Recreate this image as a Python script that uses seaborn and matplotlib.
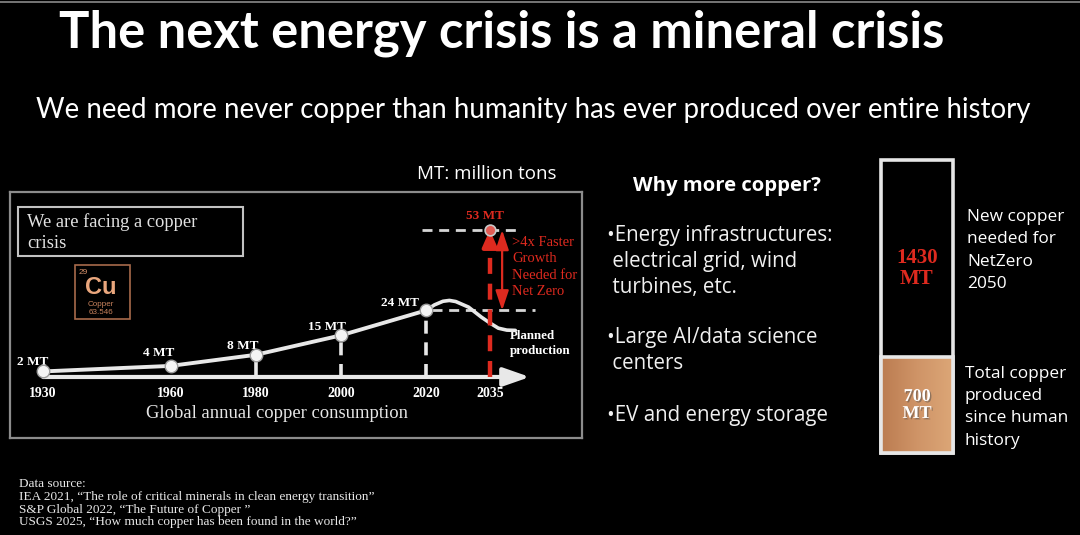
import matplotlib
matplotlib.use("Agg")
import matplotlib.pyplot as plt
import matplotlib.patheffects as pe
from matplotlib.patches import Rectangle
from matplotlib.lines import Line2D
import numpy as np
import pandas as pd
import seaborn as sns

# ---- data ----
hist_years = [1930, 1960, 1980, 2000, 2020]
hist_mt = [2, 4, 8, 15, 24]
hist_labels = ["2 MT", "4 MT", "8 MT", "15 MT", "24 MT"]

planned_years = [2020, 2022, 2024, 2025.5, 2027, 2030, 2033, 2035, 2037, 2039, 2041]
planned_mt = [24, 26, 27.3, 27.6, 27.2, 25.2, 21.6, 19.5, 17.6, 16.9, 16.8]

target_year = 2035
target_mt = 53
target_label = "53 MT"

axis_years = [1930, 1960, 1980, 2000, 2020, 2035]
guide_years = [1980, 2000, 2020]

stack_names = ["Total copper produced", "New copper needed"]
stack_values = [700, 1430]
stack_labels = ["700\nMT", "1430\nMT"]

reasons = ["•Energy infrastructures:\n electrical grid, wind\n turbines, etc.",
           "•Large AI/data science\n centers",
           "•EV and energy storage"]

sources = ["Data source:",
           "IEA 2021, \u201cThe role of critical minerals in clean energy transition\u201d",
           "S&P Global 2022, \u201cThe Future of Copper \u201d",
           "USGS 2025, \u201cHow much copper has been found in the world?\u201d"]

W, H = 1080, 535
SANS = ["Open Sans", "DejaVu Sans"]
HEAD = ["Lato", "DejaVu Sans"]
SERIF = ["Liberation Serif", "DejaVu Serif"]
RED = "#de2a1f"
LINE = "#e8e8e8"

sns.set_theme(style="dark", rc={"figure.facecolor": "black", "axes.facecolor": "black",
                                "savefig.facecolor": "black"})
plt.rcParams["font.family"] = SANS

fig = plt.figure(figsize=(W / 100, H / 100), dpi=100)


def ftext(x, y, s, **kw):
    kw.setdefault("color", "white")
    fig.text(x / W, 1 - y / H, s, **kw)


def flines(x, y0, dy, s, **kw):
    # one text per line, each centred on its own row
    for i, line in enumerate(s.split("\n")):
        ftext(x, y0 + i * dy, line, va="center", **kw)


def fbox(x0, y0, x1, y1, **kw):
    fig.add_artist(Rectangle((x0 / W, 1 - y1 / H), (x1 - x0) / W, (y1 - y0) / H,
                             transform=fig.transFigure, **kw))


# headings
fig.add_artist(Line2D([0, 1], [1 - 1.5 / H] * 2, color="#8a8a8a", lw=1.2))
ftext(502, 33, "The next energy crisis is a mineral crisis", family=HEAD, weight="bold",
      fontsize=36.5, ha="center", va="center")
ftext(533, 110, "We need more never copper than humanity has ever produced over entire history",
      family=HEAD, fontsize=19.9, ha="center", va="center")
ftext(487, 174, "MT: million tons", fontsize=13.5, ha="center", va="center")

# ---- left chart: annual copper consumption ----
ax = fig.add_axes([10 / W, 1 - 438 / H, 572 / W, 246 / H])
ax.set_xlim(1922.24, 2056.67)
ax.set_ylim(-22.0, 66.7)
ax.set_xticks([])
ax.set_yticks([])
ax.grid(False)
for sp in ax.spines.values():
    sp.set_color("#8c8c8c")
    sp.set_linewidth(1.6)

dash = (0, (3.6, 2.4))
hist = dict(zip(hist_years, hist_mt))
for yr in guide_years:
    ax.plot([yr, yr], [0, hist[yr]], color=LINE, lw=2.6,
            ls="-" if yr == guide_years[0] else dash, zorder=3)

# x axis arrow
ax.annotate("", xy=(2044.4, 0), xytext=(1930, 0),
            arrowprops=dict(arrowstyle="-|>,head_length=1.0,head_width=0.35", color=LINE,
                            lw=3, mutation_scale=16, shrinkA=0, shrinkB=0), zorder=4)

sns.lineplot(x=planned_years, y=planned_mt, ax=ax, color=LINE, lw=2.6, zorder=4)
sns.lineplot(x=hist_years, y=hist_mt, ax=ax, color=LINE, lw=2.8, marker="o", markersize=9,
             markerfacecolor="#f4f4f4", markeredgecolor="#9c9c9c", markeredgewidth=1, zorder=5)

# horizontal guides
ax.plot([2019, 2042.6], [target_mt, target_mt], color="#d6d6d6", lw=2, ls=dash, zorder=3)
ax.plot([2021.4, 2045.6], [hist_mt[-1], hist_mt[-1]], color="#d6d6d6", lw=2, ls=dash, zorder=3)

# red target line + arrows
ax.plot([target_year, target_year], [0, target_mt - 4], color=RED, lw=3.2, ls=(0, (3.6, 2.2)),
        zorder=4)
ax.annotate("", xy=(target_year, target_mt), xytext=(target_year, target_mt - 5),
            arrowprops=dict(arrowstyle="-|>,head_length=0.9,head_width=0.4", color=RED, lw=3,
                            mutation_scale=11, shrinkA=0, shrinkB=0), zorder=5)
ax.annotate("", xy=(2037.9, target_mt), xytext=(2037.9, hist_mt[-1]),
            arrowprops=dict(arrowstyle="<|-|>,head_length=1.2,head_width=0.4", color=RED, lw=1.6,
                            mutation_scale=10, shrinkA=0, shrinkB=0), zorder=5)
sns.scatterplot(x=[target_year], y=[target_mt], ax=ax, s=60, color="#e25c55",
                edgecolor="#c8c8c8", linewidth=1.2, zorder=6)

# point labels
offsets = [(-10, 9), (-12, 13), (-13, 9), (-14, 8), (-26, 7)]
for yr, v, lab, (dx, dy) in zip(hist_years, hist_mt, hist_labels, offsets):
    ax.annotate(lab, (yr, v), xytext=(dx * 0.72, dy * 0.72), textcoords="offset points",
                ha="center", va="center", color="white", family=SERIF, weight="bold", fontsize=9.5)
ax.annotate(target_label, (target_year, target_mt), xytext=(-5 * 0.72, 14 * 0.72),
            textcoords="offset points", ha="center", va="center", color=RED, family=SERIF,
            weight="bold", fontsize=9.5)

for yr in axis_years:
    ax.text(yr, -5.8, str(yr), ha="center", va="center", color="white", family=SERIF,
            weight="bold", fontsize=10)
ax.text(1985, -13.3, "Global annual copper consumption", ha="center", va="center",
        color="#e6e6e6", family=SERIF, fontsize=13.4)
for i, line in enumerate([">4x Faster", "Growth", "Needed for", "Net Zero"]):
    ax.text(2040.2, 48.5 - i * 5.9, line, ha="left", va="center", color=RED,
            family=SERIF, fontsize=10.5)
for i, line in enumerate(["Planned", "production"]):
    ax.text(2039.8, 14.8 - i * 5.4, line, ha="left", va="center", color="white",
            family=SERIF, weight="bold", fontsize=9.3)

# callout box and element tile
fbox(18, 207, 243, 256, fill=False, ec="#c2c2c2", lw=1.5)
flines(27, 222.5, 20.5, "We are facing a copper\ncrisis", family=SERIF, fontsize=13.3,
       color="#e2e2e2")
fbox(75, 265, 130, 319, fc="black", ec="#a86a4b", lw=1.2)
ftext(79, 272, "29", fontsize=6, color="#d9936c", va="center", family=["Liberation Sans"])
ftext(101, 288, "Cu", fontsize=17, weight="bold", color="#e9a67d", ha="center", va="center",
      family=["Liberation Sans"])
ftext(101, 305, "Copper", fontsize=5.8, color="#c9835d", ha="center", va="center",
      family=["Liberation Sans"])
ftext(101, 313, "63.546", fontsize=5.8, color="#c9835d", ha="center", va="center",
      family=["Liberation Sans"])

# ---- middle: reasons ----
ftext(727, 186, "Why more copper?", fontsize=14.6, weight="bold", ha="center", va="center")
ypos = [236, 338, 415]
for y, txt in zip(ypos, reasons):
    flines(607, y, 25.7, txt, fontsize=14.8, color="#f0f0f0")

# ---- right: stacked bar ----
axb = fig.add_axes([877 / W, 1 - 457 / H, 80 / W, 301 / H])
df = pd.DataFrame({"k": ["Cu"], "total": [sum(stack_values)], "base": [stack_values[0]]})
sns.barplot(data=df, x="k", y="total", ax=axb, color="black", edgecolor="#e6e6e6",
            linewidth=2.6, width=0.9, saturation=1)
sns.barplot(data=df, x="k", y="base", ax=axb, color="#c98d5e", edgecolor="#e6e6e6",
            linewidth=2.6, width=0.9, saturation=1)
copper = axb.patches[-1]
copper.set_zorder(3)
bx, by = copper.get_x(), copper.get_y()
grad = np.linspace(0, 1, 64)[None, :]
cmap = matplotlib.colors.LinearSegmentedColormap.from_list("cu", ["#bb7c51", "#cf9467", "#dca677"])
im = axb.imshow(grad, extent=[bx, bx + copper.get_width(), by, by + copper.get_height()],
                cmap=cmap, aspect="auto", zorder=2.5)
im.set_clip_path(copper)
copper.set_facecolor("none")
axb.set_xlim(-0.5, 0.5)
axb.set_ylim(-28, sum(stack_values) + 28)
axb.axis("off")
axb.text(0, stack_values[0] / 2, stack_labels[0], ha="center", va="center", color="white",
         family=SERIF, weight="bold", fontsize=13, linespacing=1.0, zorder=5,
         path_effects=[pe.withSimplePatchShadow(offset=(1, -1), alpha=0.5)])
axb.text(0, stack_values[0] + stack_values[1] * 0.45, stack_labels[1], ha="center", va="center",
         color=RED, family=SERIF, weight="bold", fontsize=15, linespacing=1.05, zorder=5)

flines(967, 217, 22.4, "New copper\nneeded for\nNetZero\n2050", fontsize=12.4)
flines(965, 374, 22.2, "Total copper\nproduced\nsince human\nhistory", fontsize=12.4)

# sources
for i, s in enumerate(sources):
    ftext(19, 484 + i * 12.8, s, family=SERIF, fontsize=9.5, va="center", color="#e8e8e8")

fig.savefig("out.png", dpi=100, facecolor="black")
